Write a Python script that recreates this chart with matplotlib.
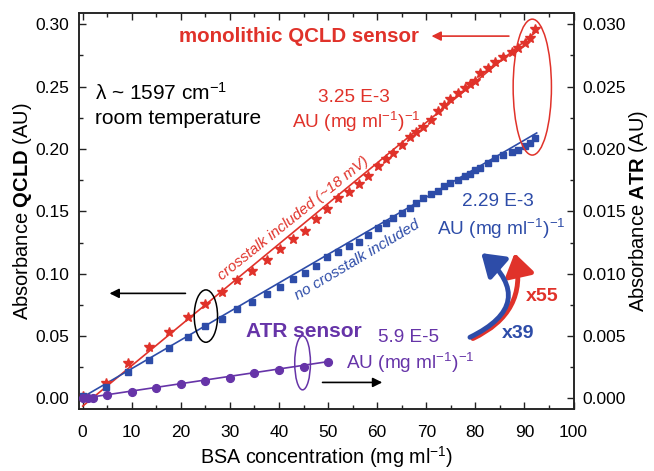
import numpy as np
import matplotlib
matplotlib.use("Agg")
import matplotlib.pyplot as plt
from matplotlib.patches import Ellipse, FancyArrowPatch
from matplotlib.ticker import MultipleLocator

plt.rcParams['font.family'] = ['Liberation Sans', 'DejaVu Sans']
plt.rcParams['mathtext.fontset'] = 'custom'
plt.rcParams['mathtext.rm'] = 'Liberation Sans'
plt.rcParams['mathtext.it'] = 'Liberation Sans:italic'
plt.rcParams['mathtext.bf'] = 'Liberation Sans:bold'

# BSA concentrations of the QCLD series (mg/ml)
conc_qcld = [0.0, 4.8, 9.3, 13.6, 17.5, 21.4, 24.9, 28.3, 31.4, 34.5, 37.5, 40.1,
             42.9, 45.3, 47.6, 49.8, 52.1, 54.2, 56.3, 58.2, 60.1, 61.8, 63.3,
             65.0, 66.7, 68.0, 69.4, 71.0, 72.4, 73.6, 74.8, 76.5, 77.9, 78.9,
             79.9, 81.0, 82.6, 84.0, 85.7, 87.4, 88.7, 90.1, 91.1, 92.1]
# QCLD absorbance, crosstalk included (red stars)
abs_crosstalk = [0.002, 0.012, 0.028, 0.041, 0.053, 0.065, 0.076, 0.085, 0.095,
                 0.102, 0.111, 0.1195, 0.128, 0.134, 0.1435, 0.152, 0.161, 0.1657,
                 0.1716, 0.1785, 0.1863, 0.1916, 0.197, 0.203, 0.2093, 0.214, 0.218,
                 0.2232, 0.2306, 0.2355, 0.240, 0.2446, 0.2486, 0.252, 0.2545, 0.2606,
                 0.2646, 0.270, 0.274, 0.278, 0.2807, 0.2847, 0.2887, 0.296]
# QCLD absorbance, no crosstalk (blue squares)
abs_no_crosstalk = [0.002, 0.0093, 0.0213, 0.031, 0.0406, 0.049, 0.058, 0.064, 0.0714,
                    0.0775, 0.0836, 0.0895, 0.0958, 0.1002, 0.1065, 0.113, 0.1176, 0.122,
                    0.1256, 0.131, 0.137, 0.141, 0.1445, 0.149, 0.153, 0.157, 0.1605,
                    0.1635, 0.1665, 0.170, 0.1725, 0.1755, 0.178, 0.180, 0.183, 0.185,
                    0.189, 0.1925, 0.195, 0.1975, 0.199, 0.202, 0.205, 0.209]
# ATR series (right axis)
conc_atr = [0, 1, 2, 5, 10, 15, 20, 25, 30, 35, 40, 45, 50]
abs_atr = [0.0, 0.00003, 0.00005, 0.00027, 0.00048, 0.0008, 0.00112, 0.00141,
           0.00167, 0.00202, 0.00227, 0.00251, 0.00289]

# linear fits (slope, intercept) as printed on the chart
fit_crosstalk = (3.25e-3, -0.0062)
fit_no_crosstalk = (2.29e-3, 0.0010)
fit_atr = (5.9e-5, 0.0)

red = '#e0322a'
blue = '#2d4ca8'
purple = '#6634a8'
dark = '#222222'

fig = plt.figure(figsize=(6.54, 4.71), dpi=100)
ax = fig.add_axes([0.1208, 0.1306, 0.7569, 0.8412])
ax2 = ax.twinx()

xf = np.array([0, 92.5])
ax.plot(xf, fit_crosstalk[0] * xf + fit_crosstalk[1], color=red, lw=1.2, zorder=3)
ax.plot(xf, fit_no_crosstalk[0] * xf + fit_no_crosstalk[1], color=blue, lw=1.2, zorder=3)
ax.plot(conc_qcld, abs_crosstalk, ls='none', marker='*', ms=7.5, color=red, mec=red, zorder=4)
ax.plot(conc_qcld, abs_no_crosstalk, ls='none', marker='s', ms=4.6, color=blue, mec=blue, zorder=4)

xa = np.array([0, 50])
ax2.plot(xa, fit_atr[0] * xa + fit_atr[1], color=purple, lw=1.2, zorder=3)
ax2.plot(conc_atr, abs_atr, ls='none', marker='o', ms=5.6, color=purple, mec=purple, zorder=4)

ax.set_xlim(-0.75, 100.1)
ax.set_ylim(-0.0089, 0.3088)
ax2.set_ylim(-0.00089, 0.03088)

ax.xaxis.set_major_locator(MultipleLocator(10))
ax.xaxis.set_minor_locator(MultipleLocator(5))
ax.yaxis.set_major_locator(MultipleLocator(0.05))
ax.yaxis.set_minor_locator(MultipleLocator(0.025))
ax2.yaxis.set_major_locator(MultipleLocator(0.005))
ax2.yaxis.set_minor_locator(MultipleLocator(0.0025))
ax.yaxis.set_major_formatter(plt.FormatStrFormatter('%.2f'))
ax2.yaxis.set_major_formatter(plt.FormatStrFormatter('%.3f'))

ax.tick_params(which='both', direction='in', top=True, right=False, color=dark,
               labelsize=12.5)
ax.tick_params(axis='x', pad=11)
ax.tick_params(axis='y', pad=7)
ax.tick_params(which='major', length=5, width=1)
ax.tick_params(which='minor', length=3, width=1)
ax2.tick_params(which='both', direction='in', color=dark, labelsize=12.5, pad=6)
ax2.tick_params(which='major', length=5, width=1)
ax2.tick_params(which='minor', length=3, width=1)
for a in (ax, ax2):
    for s in a.spines.values():
        s.set_color(dark)
        s.set_linewidth(1.1)

ax.set_xlabel(r'BSA concentration (mg ml$^{-1}$)', fontsize=14.2, labelpad=3)
ax.set_ylabel(r'Absorbance $\mathbf{QCLD}$ (AU)', fontsize=14.5, labelpad=1)
ax2.set_ylabel(r'Absorbance $\mathbf{ATR}$ (AU)', fontsize=14.5, rotation=90, labelpad=1)

# annotations
ax.text(44.0, 0.290, 'monolithic QCLD sensor', color=red, fontsize=14.8,
        fontweight='bold', ha='center', va='center')
ax.annotate('', xy=(70.5, 0.2905), xytext=(87.4, 0.2905),
            arrowprops=dict(arrowstyle='-|>', color=red, lw=1.2, mutation_scale=14))
ax.text(2.5, 0.2446, r'λ ~ 1597 cm$^{-1}$', fontsize=15, ha='left', va='center')
ax.text(2.5, 0.2245, 'room temperature', fontsize=15, ha='left', va='center')

ax.text(55.3, 0.2416, '3.25 E-3', color=red, fontsize=13.7, ha='center', va='center')
ax.text(55.7, 0.2216, r'AU (mg ml$^{-1}$)$^{-1}$', color=red, fontsize=13.7, ha='center', va='center')
ax.text(42.9, 0.1444, 'crosstalk included (~18 mV)', color=red, fontsize=11, style='italic',
        rotation=38.7, ha='center', va='center', rotation_mode='anchor')
ax.text(55.9, 0.1109, 'no crosstalk included', color=blue, fontsize=11, style='italic',
        rotation=30.8, ha='center', va='center', rotation_mode='anchor')
ax.text(84.6, 0.1582, '2.29 E-3', color=blue, fontsize=13.7, ha='center', va='center')
ax.text(85.2, 0.1355, r'AU (mg ml$^{-1}$)$^{-1}$', color=blue, fontsize=13.7, ha='center', va='center')

ax.text(45.1, 0.0534, 'ATR sensor', color=purple, fontsize=15, fontweight='bold',
        ha='center', va='center')
ax.text(66.3, 0.0489, '5.9 E-5', color=purple, fontsize=13.7, ha='center', va='center')
ax.text(66.7, 0.0281, r'AU (mg ml$^{-1}$)$^{-1}$', color=purple, fontsize=13.7, ha='center', va='center')

ax.text(93.6, 0.0815, 'x55', color=red, fontsize=14, fontweight='bold', ha='center', va='center')
ax.text(88.7, 0.0521, 'x39', color=blue, fontsize=14, fontweight='bold', ha='center', va='center')

ax.add_patch(FancyArrowPatch((79.5, 0.048), (88.0, 0.1165), connectionstyle='arc3,rad=0.4',
                             arrowstyle='-|>,head_length=0.6,head_width=0.4',
                             mutation_scale=22, lw=3.5, color=red, zorder=5,
                             shrinkA=0, shrinkB=0))
ax.add_patch(FancyArrowPatch((78.9, 0.049), (81.2, 0.1165), connectionstyle='arc3,rad=0.75',
                             arrowstyle='-|>,head_length=0.6,head_width=0.4',
                             mutation_scale=22, lw=3.5, color=blue, zorder=6,
                             shrinkA=0, shrinkB=0))

ax.annotate('', xy=(4.9, 0.0842), xytext=(21.5, 0.0842),
            arrowprops=dict(arrowstyle='-|>', color='black', lw=1.2, mutation_scale=14))
ax.annotate('', xy=(61.6, 0.0128), xytext=(48.3, 0.0128),
            arrowprops=dict(arrowstyle='-|>', color='black', lw=1.2, mutation_scale=14))

ax.add_patch(Ellipse((25.1, 0.066), 4.75, 0.042, fill=False, ec='black', lw=1.1, zorder=5))
ax.add_patch(Ellipse((44.8, 0.0285), 3.2, 0.0433, fill=False, ec=purple, lw=1.1, zorder=5))
ax.add_patch(Ellipse((91.6, 0.2496), 7.8, 0.109, fill=False, ec=red, lw=1.1, zorder=5))

fig.savefig('out.png', dpi=100)
